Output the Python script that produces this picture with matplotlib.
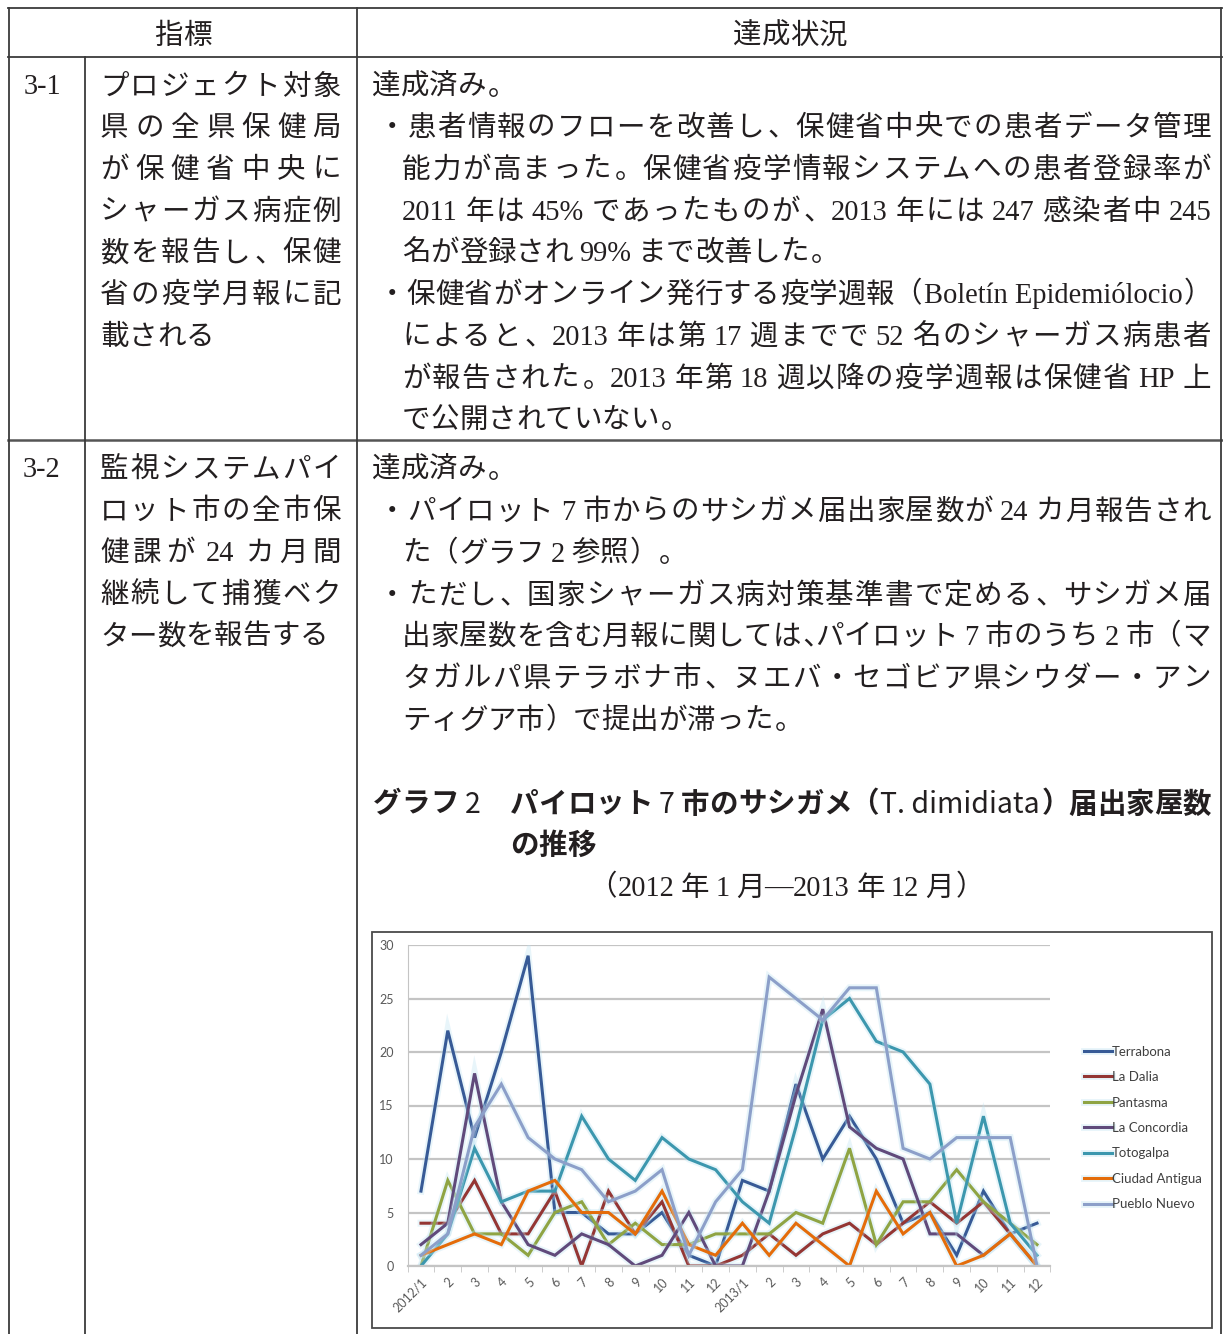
import re
import numpy as np
import matplotlib
matplotlib.use('Agg')
import matplotlib.pyplot as plt
from matplotlib import patheffects as pe
from matplotlib.lines import Line2D

# ---- chart data ----
MONTHS = ['2012/1'] + [str(m) for m in range(2, 13)] + ['2013/1'] + [str(m) for m in range(2, 13)]
SERIES = ['Terrabona', 'La Dalia', 'Pantasma', 'La Concordia', 'Totogalpa', 'Ciudad Antigua', 'Pueblo Nuevo']
terrabona = [7, 22, 12, 20, 29, 5, 5, 3, 3, 5, 1, 0, 8, 7, 17, 10, 14, 10, 4, 5, 1, 7, 3, 4]
la_dalia = [4, 4, 8, 3, 3, 7, 0, 7, 3, 6, 0, 0, 1, 3, 1, 3, 4, 2, 4, 6, 4, 6, 3, 0]
pantasma = [0, 8, 3, 3, 1, 5, 6, 2, 4, 2, 2, 3, 3, 3, 5, 4, 11, 2, 6, 6, 9, 6, 4, 2]
la_concordia = [2, 4, 18, 6, 2, 1, 3, 2, 0, 1, 5, 0, 0, 7, 16, 24, 13, 11, 10, 3, 3, 1, 3, 0]
totogalpa = [0, 3, 11, 6, 7, 7, 14, 10, 8, 12, 10, 9, 6, 4, 13, 23, 25, 21, 20, 17, 4, 14, 4, 1]
ciudad_antigua = [1, 2, 3, 2, 7, 8, 5, 5, 3, 7, 2, 1, 4, 1, 4, 2, 0, 7, 3, 5, 0, 1, 3, 0]
pueblo_nuevo = [1, 3, 13, 17, 12, 10, 9, 6, 7, 9, 1, 6, 9, 27, 25, 23, 26, 26, 11, 10, 12, 12, 12, 0]
COLORS = ['#375A96', '#943634', '#8FA443', '#604A7B', '#3C97AE', '#E46C0A', '#8C9FC9']

W, H = 1223, 1334
fig = plt.figure(figsize=(W / 100, H / 100), dpi=100)
fig.patch.set_facecolor('white')
r = fig.canvas.get_renderer()

BODY = ['Liberation Serif', 'Noto Sans CJK JP']
GOTHIC = ['Noto Sans CJK JP']
INK = '#231F20'
EM = 28.5
SIZE = EM * 72 / 100

TOKEN = re.compile(r"[A-Za-z0-9%.\-íó]+(?: [A-Za-z0-9%.\-íó]+)*|\S")
NOPAD = set('（）、。､(),―')


def fx(x):
  return x / W


def fy(y):
  return 1 - y / H


def layout(x0, yc, s, x1=None, center=None, size=SIZE, family=BODY, weight='normal'):
  # place a line token by token, like a justified japanese paragraph
  em = size * 100 / 72
  toks = TOKEN.findall(s)
  items = []
  for i, t in enumerate(toks):
    if len(t) == 1 and ord(t) > 0x2000:
      w = em * 0.5 if t == '､' else em
      items.append([t, w, None, 0])
    else:
      txt = fig.text(0, 0, t, fontsize=size, family=family, color=INK,
                     weight='normal' if family is GOTHIC else weight, va='baseline')
      w = txt.get_window_extent(renderer=r).width
      lp = 0.22 * em if i > 0 and toks[i - 1] not in NOPAD else 0
      rp = 0.22 * em if i < len(toks) - 1 and toks[i + 1] not in NOPAD else 0
      items.append([t, w + lp + rp, txt, lp])
  total = sum(it[1] for it in items)
  gap = 0
  if x1 is not None and len(items) > 1:
    gap = (x1 - x0 - total) / (len(items) - 1)
  if center is not None:
    x0 = center - total / 2
  yb = fy(yc + 0.37 * em)
  x = x0
  for t, w, txt, lp in items:
    if txt is not None:
      txt.set_position((fx(x + lp), yb))
    else:
      if t in '、。､，':
        xx, ha = x + 0.08 * em, 'left'
      elif t == '（':
        xx, ha = x + 0.95 * em, 'right'
      elif t == '）':
        xx, ha = x + 0.05 * em, 'left'
      else:
        xx, ha = x + w / 2, 'center'
      fig.text(fx(xx), yb, t, fontsize=size, family=family, weight=weight,
               color=INK, ha=ha, va='baseline')
    x += w + gap


def hline(y, xa, xb, lw=1.3, color='#3A3A3A'):
  fig.add_artist(Line2D([fx(xa), fx(xb)], [fy(y), fy(y)], color=color, lw=lw))


def vline(x, ya, yb, lw=1.3, color='#3A3A3A'):
  fig.add_artist(Line2D([fx(x), fx(x)], [fy(ya), fy(yb)], color=color, lw=lw))


# table frame
hline(8, 8, 1222)
hline(57, 8, 1222)
hline(440, 8, 1222, lw=1.8, color='#555555')
vline(9, 8, 1334)
vline(85, 57, 1334)
vline(357, 8, 1334)
vline(1221, 8, 1334)

# header
layout(0, 33, '指標', center=183)
layout(0, 33, '達成状況', center=790)

# row 3-1
L0, L1 = 100, 341
R0, R1, RI = 372, 1211, 402
fig.text(fx(42), fy(84 + 10.5), '3-1', fontsize=SIZE, family=BODY, color=INK, ha='center', va='baseline')
left1 = ['プロジェクト対象', '県の全県保健局', 'が保健省中央に', 'シャーガス病症例',
         '数を報告し、保健', '省の疫学月報に記']
for i, s in enumerate(left1):
  layout(L0, 84 + i * 41.7, s, x1=L1)
layout(L0, 84 + 6 * 41.7, '載される')

layout(R0, 84, '達成済み。')
layout(378, 125, '・患者情報のフローを改善し、保健省中央での患者データ管理', x1=R1)
layout(RI, 167, '能力が高まった。保健省疫学情報システムへの患者登録率が', x1=R1)
layout(RI, 209, '2011年は45%であったものが、2013年には247感染者中245', x1=R1)
layout(RI, 250, '名が登録され99%まで改善した。')
layout(378, 292, '・保健省がオンライン発行する疫学週報（Boletín Epidemiólocio）', x1=R1)
layout(RI, 334, 'によると、2013年は第17週までで52名のシャーガス病患者', x1=R1)
layout(RI, 376, 'が報告された。2013年第18週以降の疫学週報は保健省HP上', x1=R1)
layout(RI, 417, 'で公開されていない。')

# row 3-2
fig.text(fx(42), fy(467 + 10.5), '3-2', fontsize=SIZE, family=BODY, color=INK, ha='center', va='baseline')
left2 = ['監視システムパイ', 'ロット市の全市保', '健課が24カ月間', '継続して捕獲ベク']
for i, s in enumerate(left2):
  layout(L0, 467 + i * 41.7, s, x1=L1)
layout(L0, 467 + 4 * 41.7, 'ター数を報告する')

layout(R0, 467, '達成済み。')
layout(378, 509, '・パイロット7市からのサシガメ届出家屋数が24カ月報告され', x1=R1)
layout(RI, 551, 'た（グラフ2参照）。')
layout(378, 593, '・ただし、国家シャーガス病対策基準書で定める、サシガメ届', x1=R1)
layout(RI, 634, '出家屋数を含む月報に関しては､パイロット7市のうち2市（マ', x1=R1)
layout(RI, 676, 'タガルパ県テラボナ市、ヌエバ・セゴビア県シウダー・アン', x1=R1)
layout(RI, 718, 'ティグア市）で提出が滞った。')

# graph title
layout(373, 802, 'グラフ2', family=GOTHIC, weight='bold')
layout(510, 802, 'パイロット7市のサシガメ（T. dimidiata）届出家屋数', x1=R1, family=GOTHIC, weight='bold')
layout(510, 843, 'の推移', family=GOTHIC, weight='bold')
layout(0, 885, '（2012年1月―2013年12月）', center=786)

# chart box
fig.add_artist(plt.Rectangle((fx(372), fy(1328)), (1212 - 372) / W, (1328 - 932) / H,
                             fill=False, ec='#4A4A4A', lw=1.3, transform=fig.transFigure))

ax = fig.add_axes([fx(407.6), fy(1266), (1050.4 - 407.6) / W, (1266 - 945) / H])
ax.set_xlim(-0.5, 23.5)
ax.set_ylim(0, 30)
ax.set_facecolor('none')

x = np.arange(len(MONTHS))
all_series = [terrabona, la_dalia, pantasma, la_concordia, totogalpa, ciudad_antigua, pueblo_nuevo]
for name, vals, c in zip(SERIES, all_series, COLORS):
  ax.plot(x, vals, color=c, lw=2.2, label=name, solid_joinstyle='miter',
          path_effects=[pe.Stroke(linewidth=5, foreground='#BFE3F2', alpha=0.35), pe.Normal()])

ax.yaxis.grid(True, color='#C4C4C4', lw=1.6)
ax.set_axisbelow(True)
for sp in ['top', 'right']:
  ax.spines[sp].set_visible(False)
ax.spines['left'].set_color('#C4C4C4')
ax.spines['bottom'].set_color('#C4C4C4')
ax.spines['bottom'].set_linewidth(1.6)

ax.set_yticks(range(0, 31, 5))
ax.tick_params(axis='y', length=0, pad=10, labelsize=9, labelcolor='#595959')
for lab in ax.get_yticklabels():
  lab.set_family('Lato')
ax.set_xticks(x)
ax.set_xticklabels(MONTHS, rotation=45, ha='right', rotation_mode='anchor',
                   fontsize=9, color='#595959', family='Lato')
ax.tick_params(axis='x', which='major', length=0, pad=7)
ax.set_xticks(np.arange(-0.5, 24, 1), minor=True)
ax.tick_params(axis='x', which='minor', length=4, color='#C4C4C4')

leg = ax.legend(loc='center left', bbox_to_anchor=(fx(1072), fy(1128)), bbox_transform=fig.transFigure,
                frameon=False, prop={'family': 'Lato', 'size': 9.5}, handlelength=2.1,
                handletextpad=0.05, labelspacing=1.02, labelcolor='#404040')

fig.savefig('out.png', dpi=100, facecolor='white')
